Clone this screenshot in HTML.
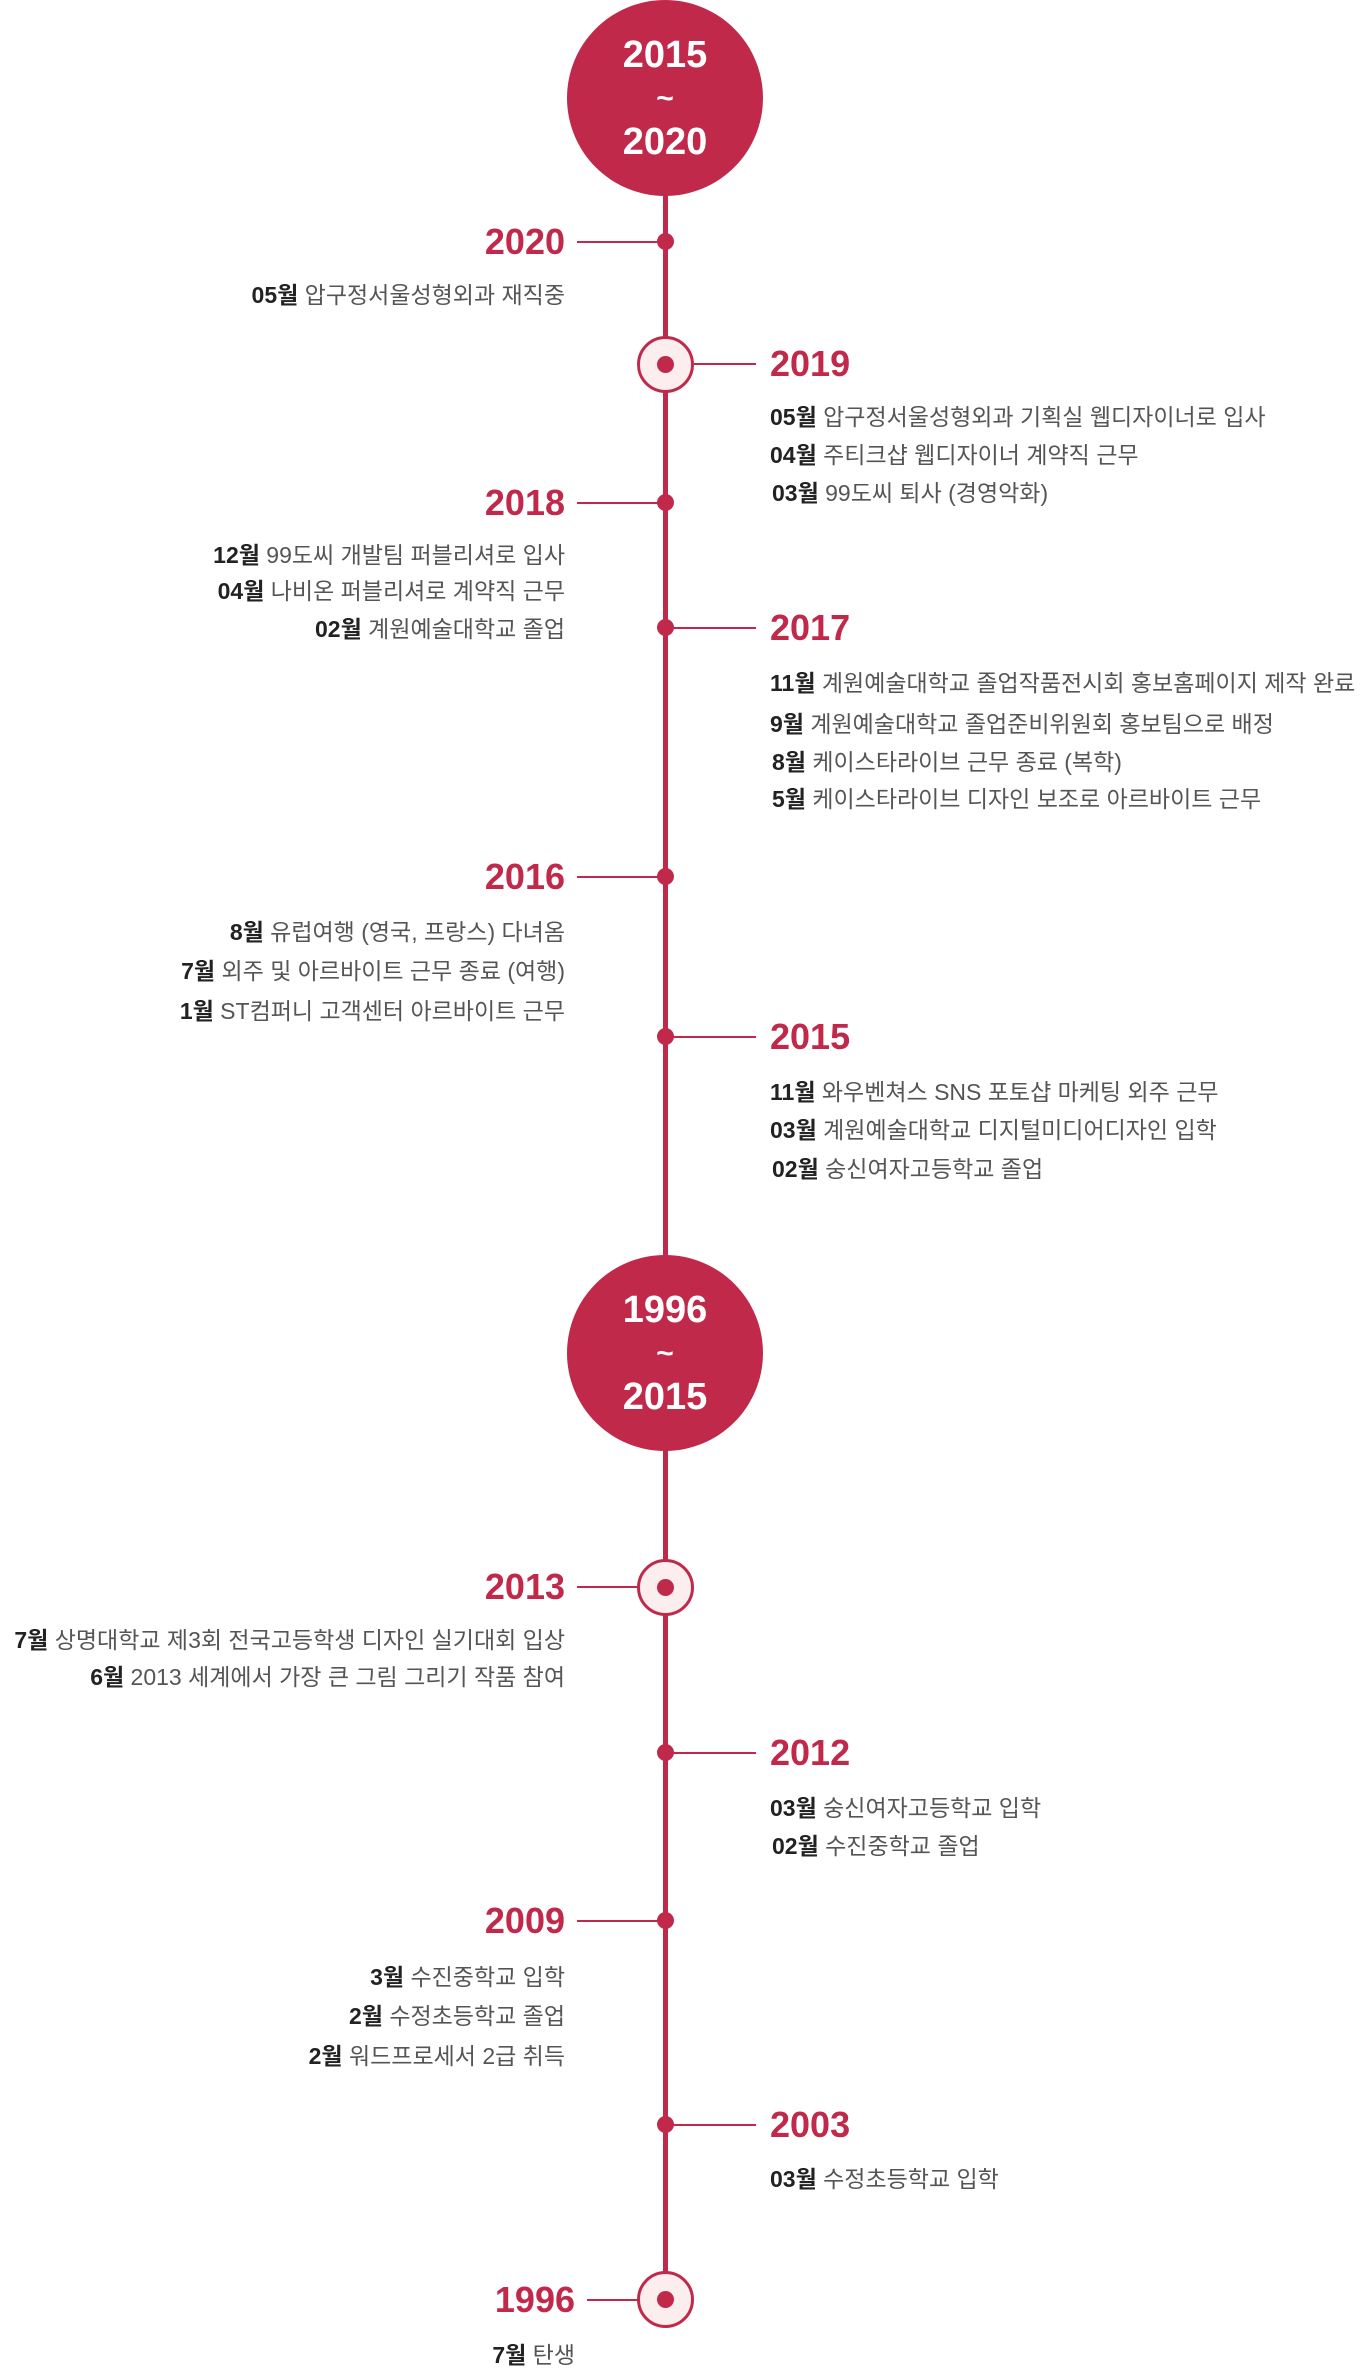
<!DOCTYPE html>
<html><head><meta charset="utf-8"><style>
body{margin:0;width:1372px;height:2367px;overflow:hidden;background:#fff;font-family:"Liberation Sans","Noto Sans CJK KR",sans-serif;position:relative}
#w{position:absolute;left:5px;top:0;width:1372px;height:2367px}
.big{position:absolute;width:196px;height:196px;border-radius:50%;background:#c1294a;color:#fff;font-weight:bold;font-size:38px;text-align:center;line-height:44px;display:flex;flex-direction:column;justify-content:center}
.vl{position:absolute;left:658px;width:5px;background:#c1294a}
.dot{position:absolute;left:652px;width:17px;height:17px;border-radius:50%;background:#c1294a}
.ring{position:absolute;left:632px;width:57px;height:57px;border-radius:50%;border:3px solid #c1294a;background:#fcedef;box-sizing:border-box}
.ring:after{content:"";position:absolute;left:50%;top:50%;width:17px;height:17px;margin:-8.5px 0 0 -8.5px;border-radius:50%;background:#c1294a}
.hl{position:absolute;height:2px;background:#c1294a}
.yr{position:absolute;color:#c1294a;font-weight:bold;font-size:36px;line-height:44px}
.l{text-align:right;right:812px}
.it{position:absolute;font-size:23px;line-height:32px;color:#555;white-space:nowrap}
.it b{color:#222}
.tl{font-size:30px;line-height:43px}
</style></head><body><div id="w">
<div class="vl" style="top:190px;height:2110px"></div>
<div class="big" style="left:562px;top:0"><div>2015</div><div class="tl">~</div><div>2020</div></div>
<div class="big" style="left:562px;top:1255px"><div>1996</div><div class="tl">~</div><div>2015</div></div>

<div class="dot" style="top:233px"></div><div class="hl" style="left:572px;width:88px;top:241px"></div>
<div class="yr l" style="top:220px">2020</div>
<div class="it l" style="top:279px"><b>05월</b> 압구정서울성형외과 재직중</div>

<div class="ring" style="top:336px"></div><div class="hl" style="left:689px;width:62px;top:363px"></div>
<div class="yr" style="left:765px;top:342px">2019</div>
<div class="it" style="left:765px;top:401px"><b>05월</b> 압구정서울성형외과 기획실 웹디자이너로 입사</div>
<div class="it" style="left:765px;top:439px"><b>04월</b> 주티크샵 웹디자이너 계약직 근무</div>
<div class="it" style="left:767px;top:477px"><b>03월</b> 99도씨 퇴사 (경영악화)</div>

<div class="dot" style="top:494px"></div><div class="hl" style="left:572px;width:88px;top:502px"></div>
<div class="yr l" style="top:481px">2018</div>
<div class="it l" style="top:539px"><b>12월</b> 99도씨 개발팀 퍼블리셔로 입사</div>
<div class="it l" style="top:575px"><b>04월</b> 나비온 퍼블리셔로 계약직 근무</div>
<div class="it l" style="top:613px"><b>02월</b> 계원예술대학교 졸업</div>

<div class="dot" style="top:619px"></div><div class="hl" style="left:660px;width:91px;top:627px"></div>
<div class="yr" style="left:765px;top:606px">2017</div>
<div class="it" style="left:765px;top:667px"><b>11월</b> 계원예술대학교 졸업작품전시회 홍보홈페이지 제작 완료</div>
<div class="it" style="left:765px;top:708px"><b>9월</b> 계원예술대학교 졸업준비위원회 홍보팀으로 배정</div>
<div class="it" style="left:767px;top:746px"><b>8월</b> 케이스타라이브 근무 종료 (복학)</div>
<div class="it" style="left:767px;top:783px"><b>5월</b> 케이스타라이브 디자인 보조로 아르바이트 근무</div>

<div class="dot" style="top:868px"></div><div class="hl" style="left:572px;width:88px;top:876px"></div>
<div class="yr l" style="top:855px">2016</div>
<div class="it l" style="top:916px"><b>8월</b> 유럽여행 (영국, 프랑스) 다녀옴</div>
<div class="it l" style="top:955px"><b>7월</b> 외주 및 아르바이트 근무 종료 (여행)</div>
<div class="it l" style="top:995px"><b>1월</b> ST컴퍼니 고객센터 아르바이트 근무</div>

<div class="dot" style="top:1028px"></div><div class="hl" style="left:660px;width:91px;top:1036px"></div>
<div class="yr" style="left:765px;top:1015px">2015</div>
<div class="it" style="left:765px;top:1076px"><b>11월</b> 와우벤쳐스 SNS 포토샵 마케팅 외주 근무</div>
<div class="it" style="left:765px;top:1114px"><b>03월</b> 계원예술대학교 디지털미디어디자인 입학</div>
<div class="it" style="left:767px;top:1153px"><b>02월</b> 숭신여자고등학교 졸업</div>

<div class="ring" style="top:1559px"></div><div class="hl" style="left:572px;width:61px;top:1586px"></div>
<div class="yr l" style="top:1565px">2013</div>
<div class="it l" style="top:1624px"><b>7월</b> 상명대학교 제3회 전국고등학생 디자인 실기대회 입상</div>
<div class="it l" style="top:1661px"><b>6월</b> 2013 세계에서 가장 큰 그림 그리기 작품 참여</div>

<div class="dot" style="top:1744px"></div><div class="hl" style="left:660px;width:91px;top:1752px"></div>
<div class="yr" style="left:765px;top:1731px">2012</div>
<div class="it" style="left:765px;top:1792px"><b>03월</b> 숭신여자고등학교 입학</div>
<div class="it" style="left:767px;top:1830px"><b>02월</b> 수진중학교 졸업</div>

<div class="dot" style="top:1912px"></div><div class="hl" style="left:572px;width:88px;top:1920px"></div>
<div class="yr l" style="top:1899px">2009</div>
<div class="it l" style="top:1961px"><b>3월</b> 수진중학교 입학</div>
<div class="it l" style="top:2000px"><b>2월</b> 수정초등학교 졸업</div>
<div class="it l" style="top:2040px"><b>2월</b> 워드프로세서 2급 취득</div>

<div class="dot" style="top:2116px"></div><div class="hl" style="left:660px;width:91px;top:2124px"></div>
<div class="yr" style="left:765px;top:2103px">2003</div>
<div class="it" style="left:765px;top:2163px"><b>03월</b> 수정초등학교 입학</div>

<div class="ring" style="top:2271px"></div><div class="hl" style="left:582px;width:51px;top:2299px"></div>
<div class="yr l" style="top:2278px;right:802px">1996</div>
<div class="it l" style="top:2339px;right:802px"><b>7월</b> 탄생</div>
</div></body></html>
